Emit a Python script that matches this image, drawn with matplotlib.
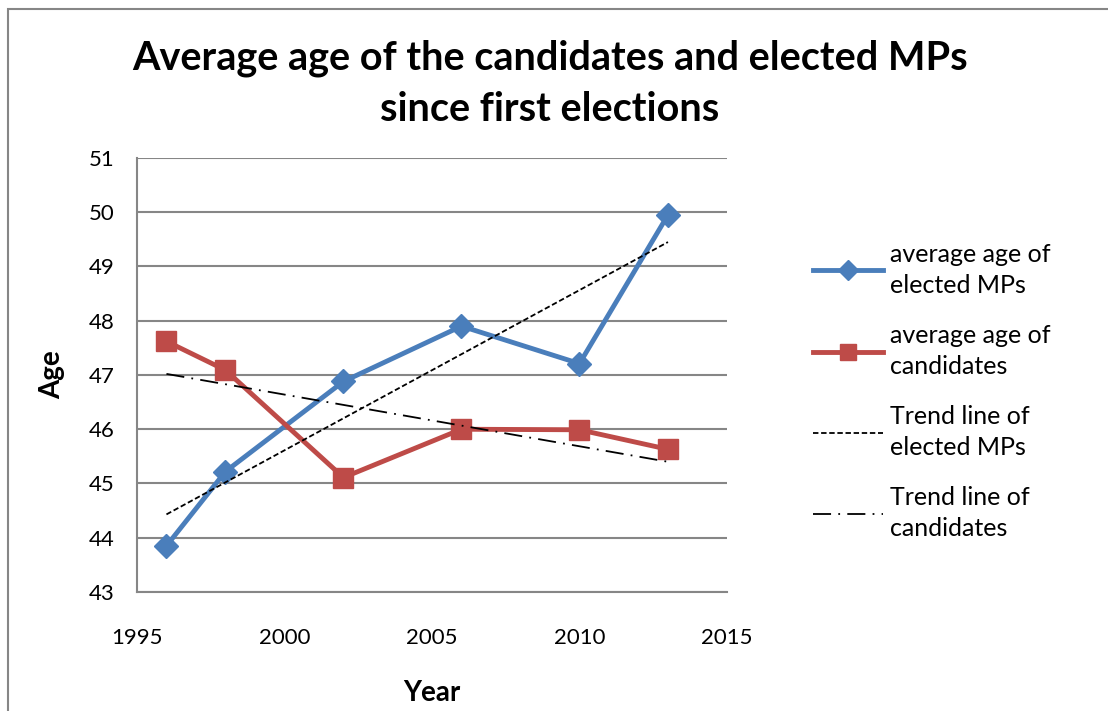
import matplotlib
matplotlib.use("Agg")
import matplotlib.pyplot as plt
from matplotlib.patches import Rectangle

plt.rcParams['font.family'] = ['Lato', 'DejaVu Sans']

years = [1996, 1998, 2002, 2006, 2010, 2013]
elected_mps = [43.85, 45.22, 46.88, 47.9, 47.21, 49.95]
candidates = [47.62, 47.09, 45.11, 46.0, 45.99, 45.63]

# trend line ends as drawn in the original
trend_years = [1996, 2013]
trend_elected = [44.43, 49.45]
trend_candidates = [47.02, 45.4]

blue = '#4a7ebb'
red = '#be4b48'

fig = plt.figure(figsize=(11.08, 7.11), dpi=100)
ax = fig.add_axes([0.1236, 0.1674, 0.5325, 0.6104])

ax.plot(years, elected_mps, color=blue, lw=3.5, marker='D', ms=12.5,
        label='average age of\nelected MPs', zorder=3)
ax.plot(years, candidates, color=red, lw=3.5, marker='s', ms=15,
        label='average age of\ncandidates', zorder=3)
ax.plot(trend_years, trend_elected, color='black', lw=1.3, ls=(0, (3, 1.5)),
        label='Trend line of\nelected MPs', zorder=4)
ax.plot(trend_years, trend_candidates, color='black', lw=1.3,
        ls=(0, (10, 4, 1, 4)), label='Trend line of\ncandidates', zorder=4)

ax.set_xlim(1995, 2015)
ax.set_ylim(43, 51)
ax.set_xticks([1995, 2000, 2005, 2010, 2015])
ax.set_yticks(range(43, 52))
ax.grid(axis='y', color='#868686', lw=1.5)
ax.set_axisbelow(True)
for s in ['top', 'right']:
    ax.spines[s].set_visible(False)
for s in ['left', 'bottom']:
    ax.spines[s].set_color('#868686')
    ax.spines[s].set_linewidth(1.5)
ax.tick_params(axis='both', labelsize=16, length=0)
ax.tick_params(axis='x', pad=26)
ax.tick_params(axis='y', pad=16)

ax.set_xlabel('Year', fontsize=20, fontweight='bold', labelpad=23)
ax.set_ylabel('Age', fontsize=20, fontweight='bold', labelpad=17)

fig.text(0.496, 0.918, 'Average age of the candidates and elected MPs',
         ha='center', va='center', fontsize=28.5, fontweight='bold')
fig.text(0.496, 0.846, 'since first elections',
         ha='center', va='center', fontsize=28.5, fontweight='bold')

leg = ax.legend(loc='upper left', bbox_to_anchor=(0.713, 0.69),
                bbox_transform=fig.transFigure, frameon=False, fontsize=18,
                handlelength=2.8, handletextpad=0.3, labelspacing=1.1,
                markerscale=0.8)
for t in leg.get_texts():
    t.set_linespacing(1.4)

fig.patches.append(Rectangle((0.0075, -0.01), 1.1, 0.998, transform=fig.transFigure,
                             fill=False, edgecolor='#868686', lw=1.5))

fig.savefig('out.png', dpi=100)
